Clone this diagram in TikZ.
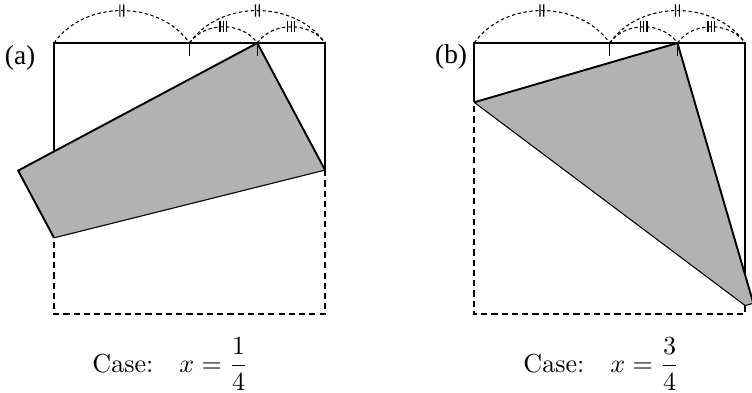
\documentclass[tikz,border=0pt]{standalone}
\usepackage{amsmath}
\usepackage{fontspec}
\newfontfamily\panelfont{Liberation Serif}
\usepackage{tikz}
\usetikzlibrary{calc,decorations.markings}

\begin{document}
\begin{tikzpicture}[
    edge/.style={line width=0.8pt},
    hidden/.style={line width=0.8pt, dash pattern=on 2.6pt off 1.7pt},
    crease/.style={line width=0.45pt},
    flap/.style={fill=gray!60},
    tickmark/.style={line width=0.6pt},
    span/.style={line width=0.45pt, dash pattern=on 1.4pt off 1.1pt, bend left=55},
    twobar/.style={postaction=decorate, decoration={markings, mark=at position 0.5 with {
        \draw[solid, line width=0.5pt] (-0.8pt,-2.6pt) -- (-0.8pt,2.6pt) (0.8pt,-2.6pt) -- (0.8pt,2.6pt);}}},
    threebar/.style={postaction=decorate, decoration={markings, mark=at position 0.5 with {
        \draw[solid, line width=0.5pt] (-1.4pt,-2.3pt) -- (-1.4pt,2.3pt) (0pt,-2.3pt) -- (0pt,2.3pt) (1.4pt,-2.3pt) -- (1.4pt,2.3pt);}}},
    caption/.style={anchor=base west, inner sep=0pt, font=\fontsize{10.95}{13}\selectfont},
    panel/.style={font=\fontsize{11.5}{13}\panelfont, inner sep=0pt}]

    \useasboundingbox (-0.797,-1.151) rectangle (10.30,4.635);

    % Corners of both squares
    \foreach \k/\dx in {1/0, 2/6.2} {
        \coordinate (A\k) at (\dx,4);
        \coordinate (B\k) at (\dx+4,4);
        \coordinate (C\k) at (\dx+4,0);
        \coordinate (D\k) at (\dx,0);
        \coordinate (M\k) at (\dx+2,4);
        \coordinate (P\k) at (\dx+3,4);
    }

    % Fold points
    \coordinate (E1) at (0,1.125);
    \coordinate (F1) at (4,2.125);
    \coordinate (Q1) at (-0.5294,2.1176);
    \coordinate (E2) at (6.2,3.125);
    \coordinate (F2) at (10.2,0.125);
    \coordinate (Q2) at (10.32,0.16);

    % Case (a)
    \draw[edge] (E1) -- (A1) -- (B1) -- (F1);
    \draw[hidden] (F1) -- (C1) -- (D1) -- (E1);
    \fill[flap] (E1) -- (F1) -- (P1) -- (Q1) -- cycle;
    \draw[edge] (F1) -- (P1) -- (Q1) -- (E1);
    \draw[crease] (E1) -- (F1);

    % Case (b)
    \draw[edge] (E2) -- (A2) -- (B2) -- (F2);
    \draw[hidden] (F2) -- (C2) -- (D2) -- (E2);
    \fill[flap] (E2) -- (P2) -- (Q2) -- (F2) -- cycle;
    \draw[edge] (E2) -- (P2) -- (Q2);
    \draw[crease] (Q2) -- (F2) -- (E2);

    % Equal lengths on the top edge
    \foreach \k in {1,2} {
        \draw[tickmark] (M\k) -- ++(0,-0.19);
        \draw[tickmark] (P\k) -- ++(0,-0.19);
        \draw[span, twobar] (A\k) to (M\k);
        \draw[span, twobar] (M\k) to (B\k);
        \draw[span, threebar] (M\k) to (P\k);
        \draw[span, threebar] (P\k) to (B\k);
    }

    % Labels
    \node[panel] (lbla) at (-0.50,3.78) {(a)};
    \node[panel] (lblb) at (5.86,3.80) {(b)};
    \node[caption] (capa) at (0.56,-0.86) {Case:\quad $x=\dfrac{1}{4}$};
    \node[caption] (capb) at (6.92,-0.86) {Case:\quad $x=\dfrac{3}{4}$};
\end{tikzpicture}
\end{document}
